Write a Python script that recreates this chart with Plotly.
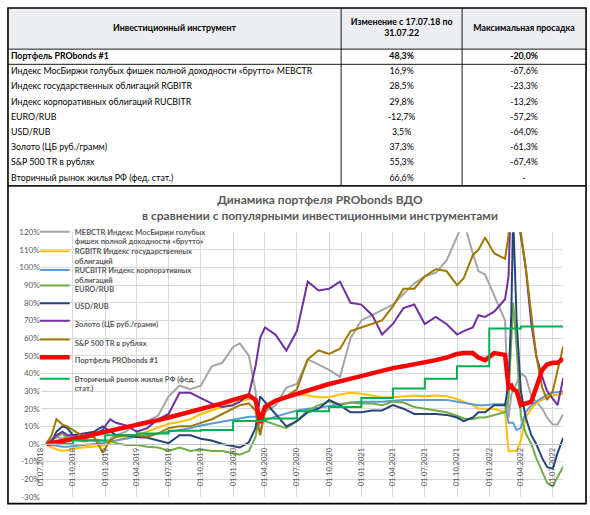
import plotly.graph_objects as go

W, H = 590, 515
FONT = "Lato"

# ---------------- data (% change since 17.07.2018) ----------------
dates = [
    "2018-07-17", "2018-08-01", "2018-08-15", "2018-09-01", "2018-09-15", "2018-10-01", "2018-11-01", "2018-12-01", "2018-12-25",
    "2019-01-15", "2019-02-01", "2019-03-01", "2019-04-01", "2019-05-01", "2019-06-01", "2019-07-01", "2019-08-01", "2019-09-01",
    "2019-10-01", "2019-11-01", "2019-12-01",
    "2020-01-01", "2020-01-20", "2020-02-15", "2020-03-05", "2020-03-18", "2020-04-01", "2020-05-01", "2020-06-01", "2020-07-01",
    "2020-08-01", "2020-09-01", "2020-10-01", "2020-11-01", "2020-12-01",
    "2021-01-01", "2021-02-01", "2021-03-01", "2021-04-01", "2021-05-01", "2021-06-01", "2021-07-01", "2021-08-01", "2021-09-01",
    "2021-10-01", "2021-10-20", "2021-11-15", "2021-12-01", "2021-12-20",
    "2022-01-15", "2022-02-15", "2022-02-25", "2022-03-05", "2022-03-10", "2022-03-20", "2022-04-01", "2022-04-15", "2022-05-01",
    "2022-05-15", "2022-06-01", "2022-06-15", "2022-07-01", "2022-07-15", "2022-07-31",
]

mebctr = [0, 3, 4, 3, 4, 5, 3, 2, 0,
          3, 5, 7, 12, 13, 16, 27, 33, 31, 33, 44, 46,
          55, 57, 50, 30, 5, 18, 22, 32, 34, 48, 45, 42, 38, 60,
          70, 73, 76, 79, 85, 91, 95, 97, 104, 118, 126, 108, 98, 96,
          84, 70, 15, 28, 30, 35, 40, 38, 27, 24, 20, 15, 11, 11, 16.9]

rgbitr = [0, -2, -3, -4, -3.5, -2.5, -2, -1.5, -1,
          0.5, 2, 4, 5, 7, 9.5, 11.5, 12.5, 14, 17, 19, 21,
          22.5, 24, 25.5, 25, 16, 22, 25, 27, 28, 27.5, 26.5, 26.5, 28, 29,
          28.5, 27.5, 26.5, 26.5, 27, 27.5, 27, 27.5, 27, 25.5, 24, 22, 20, 20,
          20, 18, -4, -4, -4, -4, 2, 15, 20, 23, 25, 26.5, 27.5, 28, 28.5]

rucbitr = [0, -0.5, -1, -1.5, -1.5, -1.3, -0.5, 0, 0.5,
           1.5, 2, 3, 4.3, 5, 6, 7, 8, 9, 10.5, 11.5, 12.5,
           13.5, 14.5, 15.5, 15.5, 12, 13.5, 15.5, 17.5, 19, 20, 20.5, 21.5, 22.5, 23.5,
           24, 24, 24, 24.5, 25, 25, 25, 25, 25, 24, 23.5, 22.5, 22, 22,
           22.5, 22.5, 12, 12, 12, 8, 9, 18, 22, 24, 26, 28, 29, 29.5, 29.8]

eurrub = [0, 2, 4, 6, 3, 3, 1.5, 2.5, 2,
          2, 0.5, -0.5, -0.5, -1.5, -2, -4, -2, -4, -3, -4, -4,
          -5.5, -6, -4, 4, 18, 13, 11, 9, 13, 19, 22, 24, 22, 23.5,
          23, 23, 22, 24, 23.5, 21, 20, 19, 18, 16, 14.5, 14, 15, 15,
          16.5, 18, 26, 55, 80, 55, 16, 6, 0, -8, -16, -22, -24, -19, -12.7]

usdrub = [0, 1, 7, 10, 9, 5, 6, 7, 10,
          7, 5, 5, 4, 3.5, 2, 0.5, 5, 5, 3, 2, 0,
          -1, -2, 1, 9, 27, 24, 17, 10, 13, 18, 20, 25, 22, 18,
          18, 19, 19, 22, 20, 17, 17, 17, 16.5, 15, 13, 15, 18, 18,
          22, 22, 35, 75, 130, 70, 30, 15, 5, 0, -8, -13, -14, -5, 3.5]

gold = [0, 2, 5, 7, 5, 5, 3, 5, 8,
        14, 12, 10.5, 7, 9, 14, 17, 29, 29, 26, 23, 21,
        22, 24, 28, 44, 60, 66, 62, 53, 64, 92, 87, 88, 92, 80,
        79, 73, 62, 68, 77, 79, 68, 72, 68, 62, 64, 66, 73, 72,
        75, 82, 95, 150, 180, 130, 118, 100, 68, 50, 38, 30, 26, 22, 37.3]

sp500 = [0, 5, 14, 11, 10, 8, 4, 4, -5,
         2, 4, 5, 5, 4, 6, 9, 10, 10, 12, 14, 17,
         20, 22, 23, 19, 5, 19, 25, 27, 31, 48, 53, 51, 54, 64,
         66, 68, 70, 78, 88, 88, 95, 99, 98, 90, 94, 107, 110, 117,
         108, 105, 118, 200, 260, 170, 120, 100, 75, 50, 32, 25, 30, 42, 55.3]

portfolio = [0, 0.5, 1, 1.5, 2, 2.5, 4, 5.5, 6.5,
             7.5, 8, 9.5, 11, 12, 13.5, 15, 16.5, 18, 20, 21.5, 23,
             25, 26, 27.5, 25, 12, 21, 24.5, 26.5, 28.5, 30.5, 32, 34, 35.5, 37,
             39, 40.5, 41.5, 43, 44, 45, 46.5, 47.5, 49, 51, 51.5, 51.5, 49, 47.5,
             51.5, 50.5, 32, 33, 31, 30, 22, 23, 24, 32, 42, 45, 46, 46, 48.3]

house_dates = ["2018-07-17", "2018-10-01", "2019-01-01", "2019-04-01", "2019-07-01", "2019-10-01",
               "2020-01-01", "2020-04-01", "2020-07-01", "2020-10-01", "2021-01-01", "2021-04-01",
               "2021-07-01", "2021-10-01", "2022-01-01", "2022-04-01", "2022-07-31"]
house = [0, 2, 5, 6, 7.5, 8, 13, 14.5, 18.5, 21, 26, 31.5, 37, 44, 65.5, 66.6, 66.6]

series_names = [
    "MEBCTR Индекс МосБиржи голубых<br>фишек полной доходности «брутто»",
    "RGBITR Индекс государственных<br>облигаций",
    "RUCBITR Индекс корпоративных<br>облигаций",
    "EURO/RUB",
    "USD/RUB",
    "Золото (ЦБ руб./грамм)",
    "S&P 500 TR в рублях",
    "Портфель PRObonds #1",
    "Вторичный рынок жилья РФ (фед.<br>стат.)",
]

table_header = ["Инвестиционный инструмент", "Изменение с 17.07.18 по<br>31.07.22", "Максимальная просадка"]
instruments = [
    "Портфель PRObonds #1",
    "Индекс МосБиржи голубых фишек полной доходности «брутто» MEBCTR",
    "Индекс государственных облигаций RGBITR",
    "Индекс корпоративных облигаций RUCBITR",
    "EURO/RUB",
    "USD/RUB",
    "Золото (ЦБ руб./грамм)",
    "S&P 500 TR в рублях",
    "Вторичный рынок жилья РФ (фед. стат.)",
]
change = ["48,3%", "16,9%", "28,5%", "29,8%", "-12,7%", "3,5%", "37,3%", "55,3%", "66,6%"]
drawdown = ["-20,0%", "-67,6%", "-23,3%", "-13,2%", "-57,2%", "-64,0%", "-61,3%", "-67,4%", "-"]

y_tick_vals = list(range(-30, 121, 10))
y_tick_text = [f"{v}%" for v in y_tick_vals]


def fx(px):
    return px / W


def fy(py):
    return 1 - py / H


fig = go.Figure()

# ---------------- chart ----------------
styles = [
    (dates, mebctr, "#A5A5A5", 2, "linear"),
    (dates, rgbitr, "#FFC000", 2, "linear"),
    (dates, rucbitr, "#5B9BD5", 2, "linear"),
    (dates, eurrub, "#70AD47", 2, "linear"),
    (dates, usdrub, "#264478", 2, "linear"),
    (dates, gold, "#7030A0", 2, "linear"),
    (dates, sp500, "#A07800", 2, "linear"),
    (dates, portfolio, "#FF0000", 4.5, "linear"),
    (house_dates, house, "#00B050", 2, "hv"),
]
# legend rows (pixel y of each legend line sample, as in the original)
legend_rows_px = [231, 251, 270, 289, 307, 325, 344, 362, 381]
legend_ids = ["legend"] + [f"legend{i}" for i in range(2, len(series_names) + 1)]

for lid, name, (xs, ys, color, width, shape) in zip(legend_ids, series_names, styles):
    fig.add_trace(go.Scatter(x=xs, y=ys, name=name, mode="lines", legend=lid,
                             line=dict(color=color, width=width, shape=shape),
                             hoverinfo="skip"))

LEG_FONT = 7.5
legend_layouts = {}
for lid, name, row_px in zip(legend_ids, series_names, legend_rows_px):
    lines = name.count("<br>") + 1
    lh = 1.3 * LEG_FONT
    item_h = max(lh * lines, 16) + 3
    sym_from_top = 5 + item_h / 2 + (0.5 * (lh - item_h + 3) if lines > 1 else 0)
    legend_layouts[lid] = dict(
        x=fx(30), y=fy(row_px - sym_from_top), xanchor="left", yanchor="top",
        bgcolor="rgba(0,0,0,0)", borderwidth=0, valign="top",
        font=dict(family=FONT, size=LEG_FONT, color="#595959", weight="bold"),
        itemwidth=30)

# ---------------- table (drawn on a hidden pixel-unit axis pair) ----------------
TL, TR = 3, 586
C1, C2 = 339, 461
HEAD_TOP, HEAD_BOT = 3, 45
ROW_H = 15.5
n = len(instruments)
rows_y = [HEAD_BOT + (i + 0.5) * ROW_H for i in range(n)]
TABLE_BOT = HEAD_BOT + n * ROW_H
BOX_BOT = 508.5

tfont = dict(family=FONT, size=8.8, color="#000000")


def bold_first(vals):
    return [f"<b>{t}</b>" if i == 0 else t for i, t in enumerate(vals)]


fig.add_trace(go.Scatter(
    x=[(TL + C1) / 2, (C1 + C2) / 2, (C2 + TR) / 2], y=[(HEAD_TOP + HEAD_BOT) / 2] * 3,
    text=[f"<b>{t}</b>" for t in table_header], mode="text", textposition="middle center",
    textfont=tfont, xaxis="x2", yaxis="y2", showlegend=False, hoverinfo="skip"))
fig.add_trace(go.Scatter(
    x=[TL + 3] * n, y=rows_y, text=bold_first(instruments), mode="text",
    textposition="middle right", textfont=tfont, xaxis="x2", yaxis="y2",
    showlegend=False, hoverinfo="skip"))
fig.add_trace(go.Scatter(
    x=[(C1 + C2) / 2] * n, y=rows_y, text=bold_first(change), mode="text",
    textposition="middle center", textfont=tfont, xaxis="x2", yaxis="y2",
    showlegend=False, hoverinfo="skip"))
fig.add_trace(go.Scatter(
    x=[(C2 + TR) / 2] * n, y=rows_y, text=bold_first(drawdown), mode="text",
    textposition="middle center", textfont=tfont, xaxis="x2", yaxis="y2",
    showlegend=False, hoverinfo="skip"))

shapes = [
    dict(type="rect", xref="paper", yref="paper", x0=fx(TL), x1=fx(TR), y0=fy(HEAD_BOT), y1=fy(HEAD_TOP),
         fillcolor="#ECEEF2", line=dict(width=0), layer="below"),
]
for yy, wdt in [(HEAD_BOT, 1), (HEAD_BOT + ROW_H, 1), (TABLE_BOT, 1.6)]:
    shapes.append(dict(type="line", xref="paper", yref="paper", x0=fx(TL), x1=fx(TR), y0=fy(yy), y1=fy(yy),
                       line=dict(color="#1a1a1a", width=wdt)))
for xx in [C1, C2]:
    shapes.append(dict(type="line", xref="paper", yref="paper", x0=fx(xx), x1=fx(xx), y0=fy(HEAD_TOP), y1=fy(TABLE_BOT),
                       line=dict(color="#1a1a1a", width=1)))
shapes.append(dict(type="rect", xref="paper", yref="paper", x0=fx(TL), x1=fx(TR), y0=fy(BOX_BOT), y1=fy(HEAD_TOP),
                   line=dict(color="#000000", width=1.6)))

fig.update_layout(
    width=W, height=H, autosize=False,
    margin=dict(l=0, r=0, t=0, b=0),
    paper_bgcolor="white", plot_bgcolor="rgba(0,0,0,0)",
    font=dict(family=FONT, color="#595959"),
    hovermode=False,
    shapes=shapes,
    title=dict(text="<b>Динамика портфеля PRObonds ВДО<br>в сравнении с популярными инвестиционными инструментами</b>",
               x=fx(320), xanchor="center", y=fy(203), yanchor="top", yref="paper",
               font=dict(family=FONT, size=12, color="#595959")),
    xaxis=dict(domain=[fx(36), fx(563)], type="date", range=["2018-07-01", "2022-07-31"],
               tick0="2018-07-01", dtick="M3", tickformat="%d.%m.%Y", tickangle=-90,
               tickfont=dict(family=FONT, size=7.5, color="#595959"),
               showgrid=True, gridcolor="#D9D9D9", gridwidth=1,
               showline=True, linecolor="#BFBFBF", linewidth=1, ticks="",
               anchor="free", position=fy(447.7), zeroline=False, fixedrange=True),
    yaxis=dict(domain=[fy(501.7), fy(231.7)], range=[-30, 120],
               tickvals=y_tick_vals, ticktext=y_tick_text,
               tickfont=dict(family=FONT, size=8, color="#595959"),
               showgrid=True, gridcolor="#D9D9D9", gridwidth=1, zeroline=False,
               showline=False, ticks="", anchor="x", fixedrange=True),
    xaxis2=dict(domain=[0, 1], range=[0, W], visible=False, anchor="y2", fixedrange=True),
    yaxis2=dict(domain=[0, 1], range=[H, 0], visible=False, anchor="x2", fixedrange=True),
    **legend_layouts,
)

fig.write_html("out.html",
               config={"displayModeBar": False, "staticPlot": True},
               post_script="document.body.style.margin='0';document.body.style.overflow='hidden';")
